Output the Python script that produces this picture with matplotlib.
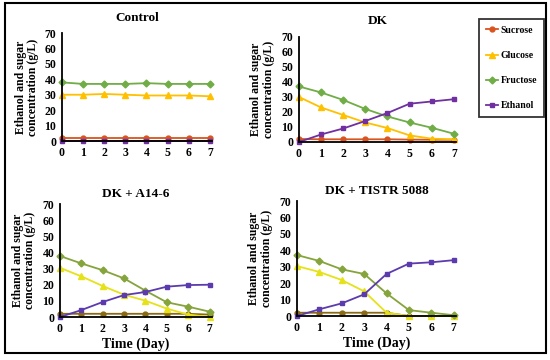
import numpy as np
import matplotlib.pyplot as plt
from matplotlib.patches import Rectangle
from matplotlib.lines import Line2D

plt.rcParams['font.family'] = ['Liberation Serif', 'DejaVu Serif']
plt.rcParams['font.weight'] = 'bold'

days = [0, 1, 2, 3, 4, 5, 6, 7]
series_names = ['Sucrose', 'Glucose', 'Fructose', 'Ethanol']

# Control
control_sucrose = [2, 2, 2, 2, 2, 2, 2, 2]
control_glucose = [30, 30, 30.5, 30, 29.5, 29.5, 29.5, 29]
control_fructose = [38, 37, 37, 37, 37.5, 37, 37, 37]
control_ethanol = [0, 0, 0, 0, 0, 0, 0, 0]

# DK
dk_sucrose = [2, 1.8, 1.8, 1.8, 1.8, 1.6, 1.5, 1.5]
dk_glucose = [30, 23, 18, 13, 9.3, 4.4, 2.2, 1.8]
dk_fructose = [37, 33, 28, 22, 17, 13, 9.5, 5.5]
dk_ethanol = [0, 5, 9, 14, 19.3, 25.5, 27, 28.5]

# DK + A14-6
a14_sucrose = [2, 2, 2, 2, 2, 2, 2, 1.5]
a14_glucose = [30.5, 25.2, 19.2, 13.8, 10.1, 5.2, 1.5, 0]
a14_fructose = [37.8, 33.2, 29, 23.9, 16.3, 9.1, 6.4, 3.3]
a14_ethanol = [0, 4.3, 9.3, 13.6, 15.5, 18.8, 19.8, 20]

# DK + TISTR 5088
tistr_sucrose = [2, 2, 2, 2, 2, 0, 0, 0]
tistr_glucose = [30.4, 26.8, 21.9, 15, 2, 0, 0, 0]
tistr_fructose = [37.1, 33.5, 28.4, 25.6, 13.8, 3.6, 2, 0.5]
tistr_ethanol = [0, 4.1, 7.7, 13.2, 25.6, 31.9, 32.7, 34]

markers = ['o', '^', 'D', 's']
msizes = [3.5, 4.5, 3.5, 3.5]
top_colors = ['#D9541E', '#FFC000', '#70AD47', '#7030A0']
bottom_colors = ['#8B6A14', '#E6E21A', '#86A43C', '#5B3BAE']

panels = [
    ('Control', [control_sucrose, control_glucose, control_fructose, control_ethanol],
     [0.1127, 0.6083, 0.2727, 0.300], top_colors, False, 9),
    ('DK', [dk_sucrose, dk_glucose, dk_fructose, dk_ethanol],
     [0.5436, 0.6056, 0.2855, 0.2917], top_colors, False, 9),
    ('DK + A14-6', [a14_sucrose, a14_glucose, a14_fructose, a14_ethanol],
     [0.109, 0.1194, 0.276, 0.3139], bottom_colors, True, 5),
    ('DK + TISTR 5088', [tistr_sucrose, tistr_glucose, tistr_fructose, tistr_ethanol],
     [0.540, 0.1222, 0.289, 0.3194], bottom_colors, True, 5),
]

fig = plt.figure(figsize=(5.5, 3.6), dpi=100)
fig.patches.append(Rectangle((0.009, 0.0194), 0.9836, 0.972, transform=fig.transFigure,
                             fill=False, edgecolor='black', linewidth=1.5))

ylabel_x = [0.049, 0.477, 0.044, 0.474]
for i, (title, data, pos, colors, xlab, tpad) in enumerate(panels):
    ax = fig.add_axes(pos)
    for vals, m, ms, c in zip(data, markers, msizes, colors):
        ax.plot(days, vals, marker=m, markersize=ms, color=c, linewidth=1.3, clip_on=False)
    ax.set_xlim(0, 7.1)
    ax.set_ylim(0, 70)
    ax.set_yticks(range(0, 71, 10))
    ax.set_xticks(days)
    for s in ['top', 'right']:
        ax.spines[s].set_visible(False)
    ax.spines['left'].set_linewidth(1.3)
    ax.spines['bottom'].set_linewidth(1.3)
    ax.tick_params(length=0, labelsize=8.5, pad=4)
    for lab in ax.get_xticklabels() + ax.get_yticklabels():
        lab.set_fontweight('bold')
    ax.set_title(title, fontsize=9.5, fontweight='bold', pad=tpad)
    if xlab:
        ax.set_xlabel('Time (Day)', fontsize=10, fontweight='bold', labelpad=2)
    fig.text(ylabel_x[i], pos[1] + pos[3] / 2, 'Ethanol and sugar\nconcentration (g/L)',
             rotation=90, ha='center', va='center', fontsize=8.5, fontweight='bold',
             linespacing=1.05)

handles = [Line2D([], [], color=c, marker=m, markersize=ms, linewidth=1.3)
           for c, m, ms in zip(top_colors, markers, msizes)]
leg = fig.legend(handles, series_names, loc='upper left', bbox_to_anchor=(0.871, 0.947),
                 frameon=True, fancybox=False, edgecolor='black', fontsize=7,
                 handlelength=1.3, handletextpad=0.2, labelspacing=1.65,
                 borderpad=0.7, borderaxespad=0)
leg.get_frame().set_linewidth(1.3)
for t in leg.get_texts():
    t.set_fontweight('bold')

fig.savefig('out.png', dpi=100)
